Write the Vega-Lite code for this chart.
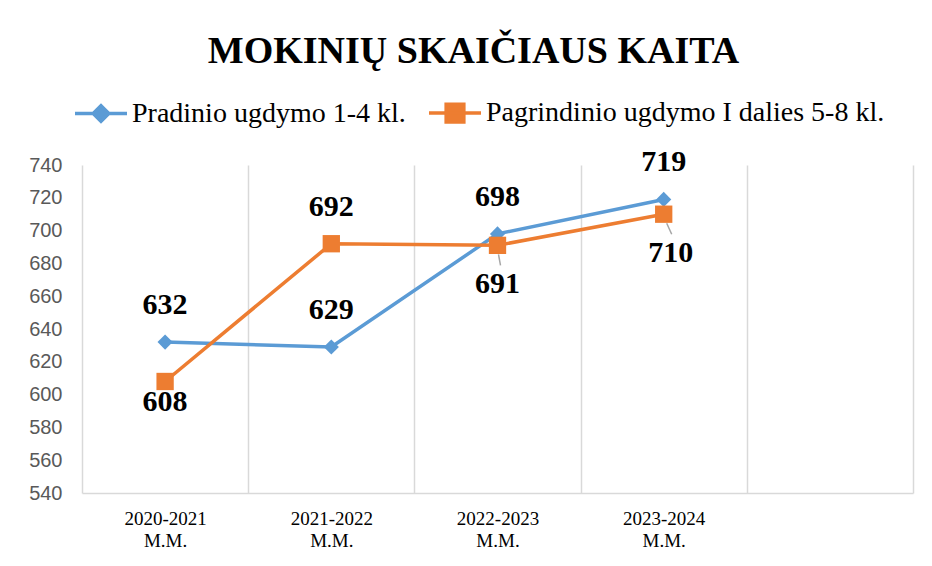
{
  "$schema": "https://vega.github.io/schema/vega-lite/v6.json",
  "width": 831,
  "height": 328,
  "autosize": {"type": "none"},
  "padding": {"left": 82, "top": 165, "right": 19, "bottom": 73},
  "background": "white",
  "title": {
    "text": "MOKINIŲ SKAIČIAUS KAITA",
    "font": "Liberation Serif",
    "fontSize": 38,
    "fontWeight": "bold",
    "color": "#000000",
    "anchor": "middle",
    "dx": -24,
    "offset": 14
  },
  "data": {
    "values": [
      {"year": "2020-2021 M.M.", "series": "Pradinio ugdymo 1-4 kl.", "value": 632},
      {"year": "2021-2022 M.M.", "series": "Pradinio ugdymo 1-4 kl.", "value": 629},
      {"year": "2022-2023 M.M.", "series": "Pradinio ugdymo 1-4 kl.", "value": 698},
      {"year": "2023-2024 M.M.", "series": "Pradinio ugdymo 1-4 kl.", "value": 719},
      {"year": "2020-2021 M.M.", "series": "Pagrindinio ugdymo I dalies 5-8 kl.", "value": 608},
      {"year": "2021-2022 M.M.", "series": "Pagrindinio ugdymo I dalies 5-8 kl.", "value": 692},
      {"year": "2022-2023 M.M.", "series": "Pagrindinio ugdymo I dalies 5-8 kl.", "value": 691},
      {"year": "2023-2024 M.M.", "series": "Pagrindinio ugdymo I dalies 5-8 kl.", "value": 710}
    ]
  },
  "encoding": {
    "x": {
      "field": "year",
      "type": "nominal",
      "sort": null,
      "title": null,
      "scale": {
        "type": "band",
        "domain": ["2020-2021 M.M.", "2021-2022 M.M.", "2022-2023 M.M.", "2023-2024 M.M.", " "],
        "paddingInner": 0,
        "paddingOuter": 0
      },
      "axis": {
        "tickBand": "extent",
        "grid": true,
        "gridColor": "#d9d9d9",
        "gridWidth": 1.5,
        "domainColor": "#d9d9d9",
        "domainWidth": 1.5,
        "ticks": false,
        "labelAngle": 0,
        "labelExpr": "split(datum.label, ' ')",
        "labelFont": "Liberation Serif",
        "labelFontSize": 19,
        "labelColor": "#000000",
        "labelLineHeight": 22,
        "labelBaseline": "top",
        "labelPadding": 16
      }
    },
    "y": {
      "field": "value",
      "type": "quantitative",
      "title": null,
      "scale": {"domain": [540, 740], "nice": false, "zero": false},
      "axis": {
        "values": [540, 560, 580, 600, 620, 640, 660, 680, 700, 720, 740],
        "grid": false,
        "domain": false,
        "ticks": false,
        "labelFont": "Liberation Sans",
        "labelFontSize": 20,
        "labelColor": "#595959",
        "labelPadding": 20
      }
    }
  },
  "layer": [
    {
      "mark": {"type": "line", "strokeWidth": 3.5},
      "encoding": {
        "color": {
          "field": "series",
          "type": "nominal",
          "scale": {
            "domain": ["Pradinio ugdymo 1-4 kl.", "Pagrindinio ugdymo I dalies 5-8 kl."],
            "range": ["#5B9BD5", "#ED7D31"]
          },
          "legend": {
            "title": null,
            "orient": "none",
            "legendX": -9,
            "legendY": -80,
            "direction": "horizontal",
            "labelFont": "Liberation Serif",
            "labelFontSize": 28,
            "labelColor": "#000000",
            "labelLimit": 600,
            "labelOffset": 3,
            "columnPadding": 16,
            "symbolSize": 2704,
            "symbolStrokeWidth": 3.5,
            "encode": {
              "symbols": {
                "update": {
                  "shape": {"signal": "datum.value === 'Pradinio ugdymo 1-4 kl.' ? 'M-1,0L1,0M0,-0.3L0.3,0L0,0.3L-0.3,0Z' : 'M-1,0L1,0M-0.34,-0.34L0.34,-0.34L0.34,0.34L-0.34,0.34Z'"},
                  "fill": {"signal": "scale('color', datum.value)"},
                  "stroke": {"signal": "scale('color', datum.value)"},
                  "strokeWidth": {"value": 3.5},
                  "strokeOpacity": {"value": 1},
                  "fillOpacity": {"value": 1},
                  "opacity": {"value": 1}
                }
              }
            }
          }
        }
      }
    },
    {
      "transform": [{"filter": "datum.series === 'Pradinio ugdymo 1-4 kl.'"}],
      "mark": {"type": "point", "shape": "diamond", "filled": true, "size": 230, "color": "#5B9BD5", "opacity": 1}
    },
    {
      "transform": [{"filter": "datum.series === 'Pagrindinio ugdymo I dalies 5-8 kl.'"}],
      "mark": {"type": "point", "shape": "square", "filled": true, "size": 300, "color": "#ED7D31", "opacity": 1}
    },
    {
      "transform": [{"filter": "datum.series === 'Pagrindinio ugdymo I dalies 5-8 kl.' && datum.year === '2022-2023 M.M.'"}],
      "mark": {"type": "rule", "color": "#a6a6a6", "strokeWidth": 1.5, "yOffset": 9, "y2Offset": 20, "xOffset": 1, "x2Offset": 3},
      "encoding": {"x2": {"field": "year"}, "y2": {"field": "value"}}
    },
    {
      "transform": [{"filter": "datum.series === 'Pagrindinio ugdymo I dalies 5-8 kl.' && datum.year === '2023-2024 M.M.'"}],
      "mark": {"type": "rule", "color": "#a6a6a6", "strokeWidth": 1.5, "yOffset": 9, "y2Offset": 20, "xOffset": 3, "x2Offset": 8},
      "encoding": {"x2": {"field": "year"}, "y2": {"field": "value"}}
    },
    {
      "transform": [{"filter": "datum.series === 'Pradinio ugdymo 1-4 kl.' || datum.year === '2021-2022 M.M.'"}],
      "mark": {"type": "text", "font": "Liberation Serif", "fontSize": 30, "fontWeight": "bold", "color": "#000000", "dy": -37, "baseline": "middle"},
      "encoding": {"text": {"field": "value"}}
    },
    {
      "transform": [{"filter": "datum.series === 'Pagrindinio ugdymo I dalies 5-8 kl.' && datum.year === '2022-2023 M.M.'"}],
      "mark": {"type": "text", "font": "Liberation Serif", "fontSize": 30, "fontWeight": "bold", "color": "#000000", "dy": 39, "baseline": "middle"},
      "encoding": {"text": {"field": "value"}}
    },
    {
      "transform": [{"filter": "datum.series === 'Pagrindinio ugdymo I dalies 5-8 kl.' && datum.year === '2023-2024 M.M.'"}],
      "mark": {"type": "text", "font": "Liberation Serif", "fontSize": 30, "fontWeight": "bold", "color": "#000000", "dy": 39, "dx": 7, "baseline": "middle"},
      "encoding": {"text": {"field": "value"}}
    },
    {
      "transform": [{"filter": "datum.series === 'Pagrindinio ugdymo I dalies 5-8 kl.' && datum.year === '2020-2021 M.M.'"}],
      "mark": {"type": "text", "font": "Liberation Serif", "fontSize": 30, "fontWeight": "bold", "color": "#000000", "dy": 21, "baseline": "middle"},
      "encoding": {"text": {"field": "value"}}
    }
  ],
  "config": {"view": {"stroke": null}}
}
